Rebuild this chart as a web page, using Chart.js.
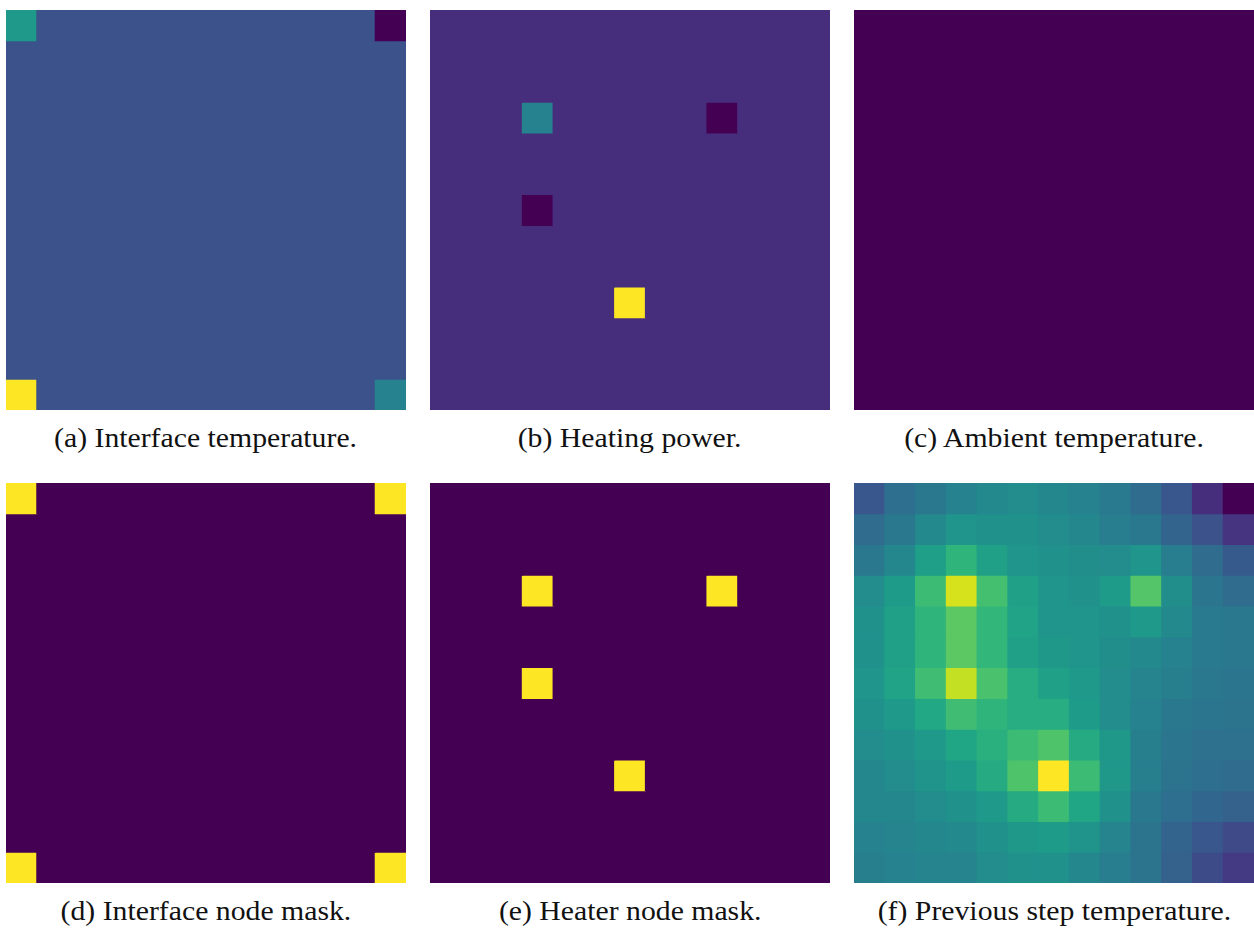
<!DOCTYPE html>
<html>
<head>
<meta charset="utf-8">
<script src="https://cdn.jsdelivr.net/npm/chart.js@4/dist/chart.umd.min.js"></script>
<style>
  html, body { margin: 0; padding: 0; background: #fff; width: 1254px; height: 932px; overflow: hidden; }
  .panel { position: absolute; width: 400px; height: 400px; }
  .panel canvas { display: block; }
  .caption {
    position: absolute; font-family: "Liberation Serif", "DejaVu Serif", serif;
    font-size: 27px; line-height: 27px; white-space: nowrap; color: #111;
    transform-origin: center top;
  }
</style>
</head>
<body>
<div class="panel" style="left:6px;top:10px"><canvas id="pa" width="400" height="400"></canvas></div>
<div class="panel" style="left:430px;top:10px"><canvas id="pb" width="400" height="400"></canvas></div>
<div class="panel" style="left:854px;top:10px"><canvas id="pc" width="400" height="400"></canvas></div>
<div class="panel" style="left:6px;top:483px"><canvas id="pd" width="400" height="400"></canvas></div>
<div class="panel" style="left:430px;top:483px"><canvas id="pe" width="400" height="400"></canvas></div>
<div class="panel" style="left:854px;top:483px"><canvas id="pf" width="400" height="400"></canvas></div>

<div class="caption" data-cx="206" style="top:425px">(a) Interface temperature.</div>
<div class="caption" data-cx="630" style="top:425px">(b) Heating power.</div>
<div class="caption" data-cx="1054" style="top:425px">(c) Ambient temperature.</div>
<div class="caption" data-cx="206" style="top:898px">(d) Interface node mask.</div>
<div class="caption" data-cx="630" style="top:898px">(e) Heater node mask.</div>
<div class="caption" data-cx="1054" style="top:898px">(f) Previous step temperature.</div>

<script>
// 13 x 13 node grid; all values are colour levels in [0, 1] (each panel normalised on its own)
const GRID_SIZE = 13;

// (a) interface temperature: uniform field with four corner interface nodes [row, col, level]
const interfaceTempBase = 0.25;
const interfaceTempNodes = [[0, 0, 0.54], [0, 12, 0.0], [12, 0, 1.0], [12, 12, 0.44]];

// (b) heating power at the four heater nodes
const heatingPowerBase = 0.13;
const heatingPowerNodes = [[3, 3, 0.44], [3, 9, 0.0], [6, 3, 0.0], [9, 6, 1.0]];

// (c) ambient temperature: constant everywhere
const ambientTempBase = 0.0;
const ambientTempNodes = [];

// (d) interface node mask
const interfaceMaskBase = 0.0;
const interfaceMaskNodes = [[0, 0, 1], [0, 12, 1], [12, 0, 1], [12, 12, 1]];

// (e) heater node mask
const heaterMaskBase = 0.0;
const heaterMaskNodes = [[3, 3, 1], [3, 9, 1], [6, 3, 1], [9, 6, 1]];

// (f) previous step temperature, row by row from the top
const prevStepTemp = [
  [0.27, 0.36, 0.40, 0.44, 0.47, 0.48, 0.46, 0.44, 0.41, 0.35, 0.27, 0.13, 0.00],
  [0.35, 0.40, 0.47, 0.52, 0.50, 0.50, 0.48, 0.46, 0.42, 0.40, 0.32, 0.25, 0.15],
  [0.40, 0.46, 0.56, 0.65, 0.57, 0.52, 0.50, 0.49, 0.48, 0.52, 0.42, 0.35, 0.28],
  [0.48, 0.55, 0.68, 0.935, 0.70, 0.57, 0.52, 0.50, 0.55, 0.73, 0.49, 0.39, 0.35],
  [0.50, 0.57, 0.65, 0.745, 0.66, 0.58, 0.52, 0.52, 0.50, 0.54, 0.47, 0.41, 0.40],
  [0.50, 0.57, 0.65, 0.745, 0.66, 0.57, 0.53, 0.52, 0.49, 0.47, 0.44, 0.41, 0.40],
  [0.52, 0.58, 0.69, 0.91, 0.71, 0.62, 0.57, 0.54, 0.48, 0.45, 0.43, 0.40, 0.39],
  [0.50, 0.54, 0.60, 0.69, 0.65, 0.62, 0.62, 0.55, 0.48, 0.44, 0.40, 0.39, 0.38],
  [0.48, 0.50, 0.54, 0.59, 0.63, 0.68, 0.72, 0.61, 0.53, 0.43, 0.39, 0.37, 0.37],
  [0.46, 0.48, 0.51, 0.55, 0.61, 0.72, 1.00, 0.68, 0.53, 0.43, 0.38, 0.36, 0.35],
  [0.46, 0.46, 0.48, 0.50, 0.54, 0.61, 0.68, 0.59, 0.50, 0.40, 0.36, 0.33, 0.31],
  [0.44, 0.45, 0.46, 0.47, 0.50, 0.53, 0.55, 0.51, 0.45, 0.38, 0.32, 0.27, 0.22],
  [0.43, 0.44, 0.45, 0.45, 0.48, 0.50, 0.50, 0.46, 0.42, 0.38, 0.31, 0.23, 0.17]
];

// viridis colormap, sampled every 0.05
const VIRIDIS = ['#440154', '#471365', '#482475', '#463480', '#414487', '#3b528b', '#355f8d',
  '#2f6c8e', '#2a788e', '#25848e', '#21918c', '#1e9c89', '#22a884', '#2fb47c', '#44bf70',
  '#5ec962', '#7ad151', '#9bd93c', '#bddf26', '#dfe318', '#fde725'];

function hexToRgb(h) {
  return [parseInt(h.slice(1, 3), 16), parseInt(h.slice(3, 5), 16), parseInt(h.slice(5, 7), 16)];
}
const VIRIDIS_RGB = VIRIDIS.map(hexToRgb);

function viridis(v) {
  const t = Math.min(1, Math.max(0, v)) * (VIRIDIS_RGB.length - 1);
  const i = Math.min(VIRIDIS_RGB.length - 2, Math.floor(t));
  const f = t - i;
  const a = VIRIDIS_RGB[i], b = VIRIDIS_RGB[i + 1];
  const c = a.map((x, k) => Math.round(x + (b[k] - x) * f));
  return `rgb(${c[0]},${c[1]},${c[2]})`;
}

function fieldFromNodes(base, nodes) {
  const g = Array.from({ length: GRID_SIZE }, () => Array(GRID_SIZE).fill(base));
  nodes.forEach(([r, c, v]) => { g[r][c] = v; });
  return g;
}

const columnLabels = Array.from({ length: GRID_SIZE }, (_, i) => String(i));

// one floating-bar dataset per grid row; each bar spans [row, row + 1] on a reversed y axis
function drawField(canvasId, grid) {
  const datasets = grid.map((row, r) => ({
    data: row.map(() => [r, r + 1]),
    backgroundColor: row.map(viridis),
    borderWidth: 0,
    grouped: false,
    barPercentage: 1,
    categoryPercentage: 1,
    inflateAmount: 0.5   // overlap neighbouring cells so no seams show between them
  }));
  new Chart(document.getElementById(canvasId), {
    type: 'bar',
    data: { labels: columnLabels, datasets },
    options: {
      responsive: false,
      animation: false,
      devicePixelRatio: 1,
      layout: { padding: 0 },
      plugins: { legend: { display: false }, tooltip: { enabled: false }, title: { display: false } },
      scales: {
        x: { display: false, offset: true },
        y: { display: false, min: 0, max: GRID_SIZE, reverse: true }
      }
    }
  });
}

drawField('pa', fieldFromNodes(interfaceTempBase, interfaceTempNodes));
drawField('pb', fieldFromNodes(heatingPowerBase, heatingPowerNodes));
drawField('pc', fieldFromNodes(ambientTempBase, ambientTempNodes));
drawField('pd', fieldFromNodes(interfaceMaskBase, interfaceMaskNodes));
drawField('pe', fieldFromNodes(heaterMaskBase, heaterMaskNodes));
drawField('pf', prevStepTemp);

// captions: widen the serif face slightly to the set width of the sub-figure captions
const caps = Array.from(document.querySelectorAll('.caption'));
const refWidth = caps[0].getBoundingClientRect().width;
const stretch = 303 / refWidth;
caps.forEach(el => {
  const w = el.getBoundingClientRect().width;
  const cx = parseFloat(el.dataset.cx);
  el.style.left = (cx - w / 2) + 'px';
  el.style.transform = `scaleX(${stretch})`;
});
</script>
</body>
</html>
